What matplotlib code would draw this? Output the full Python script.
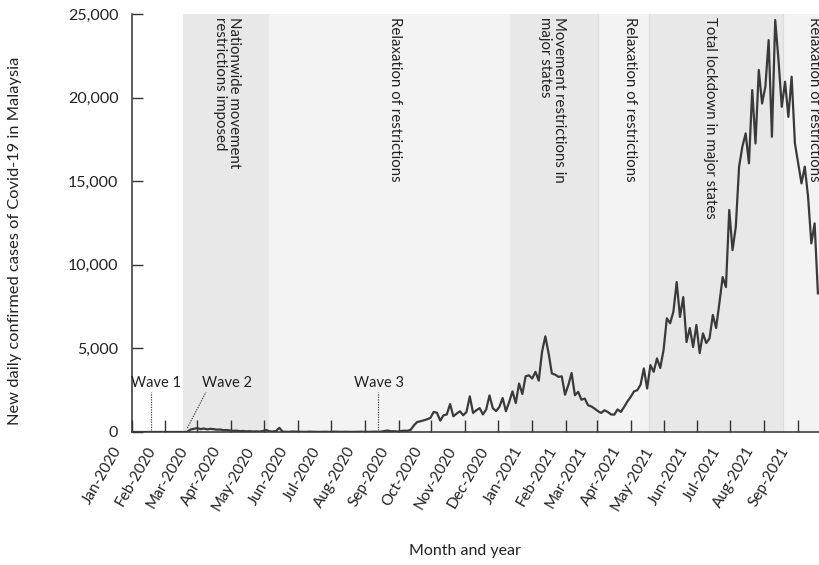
import pandas as pd
import matplotlib
matplotlib.use('Agg')
import matplotlib.pyplot as plt
import matplotlib.dates as mdates
from matplotlib.ticker import FuncFormatter
from matplotlib.transforms import ScaledTranslation

plt.rcParams['font.family'] = ['Lato', 'DejaVu Sans']

# daily new cases, every 3 days starting 1 Jan 2020
start_date = '2020-01-01'
cases = [
    0, 0, 0, 0, 0, 0, 1, 3, 1, 2, 1, 0, 0, 0, 0, 1, 2, 10,
    150, 190, 235, 170, 210, 160, 190, 170, 140, 150, 110, 120, 90, 70, 80, 50,
    60, 40, 50, 30, 40, 25, 60, 120, 40, 30, 60, 250,
    20, 15, 10, 30, 20, 15, 10, 8, 20, 15, 10, 5, 10, 15, 8, 10, 20, 12, 8, 15,
    10, 5, 10, 20, 15, 10, 8, 15, 20, 10,
    20, 60, 90, 40, 50, 30, 60, 80, 70, 130,
    400, 600, 640, 700, 760, 840, 1200, 1150, 680, 1000,
    1050, 1670, 940, 1100, 1240, 1000, 1200, 2130, 1140, 1300,
    1430, 1050, 1350, 2190, 1430, 1250, 1500, 2030, 1240, 1800,
    2430, 1730, 2900, 2270, 3330, 3390, 3200, 3600, 3070, 4800,
    5720, 4700, 3500, 3430, 3300, 3330, 2230, 2800, 3530, 2200,
    2400, 1930, 2000, 1600, 1530, 1400, 1250, 1140, 1300, 1200,
    1050, 1040, 1350, 1200, 1500, 1830, 2100, 2430, 2500, 2830,
    3800, 2600, 4000, 3600, 4400, 3830, 4900, 6800, 6500, 7200,
    8970, 6880, 8070, 5380, 6220, 5080, 6400, 4720, 5900, 5320,
    5600, 7000, 6220, 7710, 9270, 8670, 13280, 10880, 12280, 15870,
    17070, 17860, 16070, 20450, 17260, 21650, 19650, 20650, 23440, 17660,
    24640, 22240, 19450, 20950, 18850, 21250, 17260, 16070, 14870, 15870,
    14080, 11280, 12480, 8290,
]
end_date = '2021-09-20'

phase_labels = ['Nationwide movement\nrestrictions imposed', 'Relaxation of restrictions',
                'Movement restrictions in\nmajor states', 'Relaxation of restrictions',
                'Total lockdown in major states', 'Relaxation of restrictions']
phase_starts = ['2020-02-17', '2020-05-06', '2020-12-12', '2021-03-02', '2021-04-18', '2021-08-18']
phase_ends = phase_starts[1:] + [end_date]
phase_label_dates = ['2020-03-28', '2020-08-29', '2021-01-19', '2021-03-31', '2021-06-12', '2021-09-15']

wave_labels = ['Wave 1', 'Wave 2', 'Wave 3']
wave_dates = ['2020-01-19', '2020-02-21', '2020-08-13']
wave_text_dates = ['2020-01-23', '2020-03-28', '2020-08-14']

dates = pd.date_range(start_date, periods=len(cases), freq='3D')

fig = plt.figure(figsize=(8.19, 5.65), dpi=100)
ax = fig.add_axes([0.1606, 0.2354, 0.8394, 0.7398])

for k, (s, e) in enumerate(zip(phase_starts, phase_ends)):
    shade = '#e8e8e8' if k % 2 == 0 else '#f3f3f3'
    ax.axvspan(pd.Timestamp(s), pd.Timestamp(e), color=shade, lw=0, zorder=0)
for s in phase_starts[3:]:
    ax.axvline(pd.Timestamp(s), color='#dcdcdc', lw=0.8, zorder=0.5)

for lab, d in zip(phase_labels, phase_label_dates):
    ax.text(pd.Timestamp(d), 24820, lab, rotation=-90, ha='center', va='top',
            multialignment='left', fontsize=10.8, color='#222222', linespacing=1.0)

ax.plot(dates, cases, color='#3a3a3a', lw=1.6, zorder=3)

# wave markers
ax.plot([pd.Timestamp(wave_dates[0])] * 2, [100, 2390], ls=(0, (1, 1)), color='#444444', lw=0.9)
ax.plot([pd.Timestamp(wave_dates[1]), pd.Timestamp('2020-03-09')], [240, 2390],
        ls=(0, (1, 1)), color='#444444', lw=0.9)
ax.plot([pd.Timestamp(wave_dates[2])] * 2, [100, 2390], ls=(0, (1, 1)), color='#444444', lw=0.9)
for lab, d in zip(wave_labels, wave_text_dates):
    ax.text(pd.Timestamp(d), 2690, lab, ha='center', va='baseline', fontsize=10.5, color='#222222')

ax.set_xlim(pd.Timestamp(start_date), pd.Timestamp(end_date))
ax.set_ylim(0, 25000)

for side in ['top', 'right']:
    ax.spines[side].set_visible(False)
for side in ['left', 'bottom']:
    ax.spines[side].set_color('#333333')
    ax.spines[side].set_linewidth(1.1)

ax.xaxis.set_major_locator(mdates.MonthLocator())
ax.xaxis.set_major_formatter(mdates.DateFormatter('%b-%Y'))
ax.set_yticks(range(0, 25001, 5000))
ax.yaxis.set_major_formatter(FuncFormatter(lambda v, p: f'{v:,.0f}'))

ax.tick_params(axis='x', direction='in', length=8.5, width=1, colors='#333333',
               labelcolor='#222222', labelsize=11, pad=9)
ax.tick_params(axis='y', direction='in', length=8, width=1, colors='#333333',
               labelcolor='#222222', labelsize=11.5, pad=9.5)
shift = ScaledTranslation(-7 / 100, 0, fig.dpi_scale_trans)
for t in ax.get_xticklabels():
    t.set_rotation(60)
    t.set_ha('right')
    t.set_transform(t.get_transform() + shift)

ax.set_xlabel('Month and year', fontsize=11.5, color='#222222')
ax.xaxis.set_label_coords(0.485, -0.268)
ax.set_ylabel('New daily confirmed cases of Covid-19 in Malaysia', fontsize=11.8, color='#222222')
ax.yaxis.set_label_coords(-0.159, 0.457)

fig.savefig('out.png', dpi=100)
